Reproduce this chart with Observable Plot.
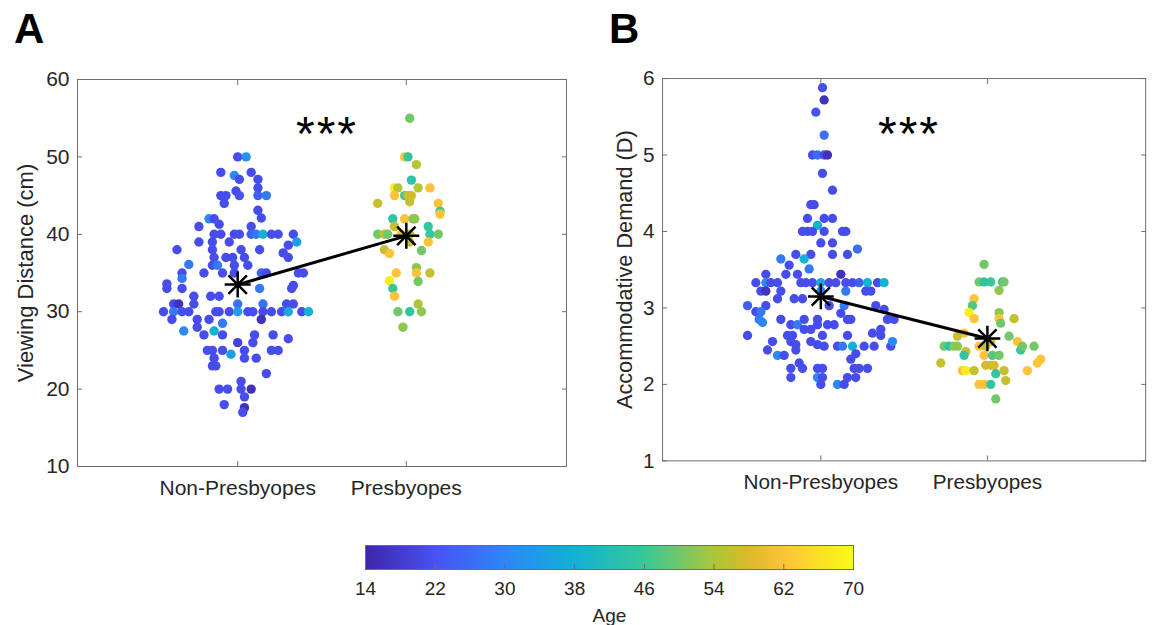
<!DOCTYPE html>
<html><head><meta charset="utf-8">
<script src="https://cdn.jsdelivr.net/npm/d3@7"></script>
<script src="https://cdn.jsdelivr.net/npm/@observablehq/plot@0.6"></script>
<style>
body{margin:0;background:#fff;overflow:hidden;}
#root{position:relative;width:1159px;height:625px;font-family:"Liberation Sans",Arial,sans-serif;overflow:hidden;}
.abs{position:absolute;}
.letter{position:absolute;font-weight:bold;font-size:42px;line-height:1;color:#000;}
.sig{position:absolute;font-size:48px;line-height:1;color:#000;letter-spacing:2px;}
</style></head><body><div id="root"></div>
<script>
// ---------- data ----------
const categories = ["Non-Presbyopes", "Presbyopes"];
const distanceTicks = [10, 20, 30, 40, 50, 60];
const demandTicks = [1, 2, 3, 4, 5, 6];
const ageTicks = [14, 22, 30, 38, 46, 54, 62, 70];
const parulaAges = [14, 22, 30, 38, 46, 54, 58, 62, 70];
const parulaColors = ["#3e26a8", "#4852f4", "#2d87f7", "#12b1d6", "#37c897", "#abc739", "#dcb92b", "#fec338", "#f9fb15"];

// [jitter (category units), viewing distance cm, age]
const distNonPresby = [
[0.00,50,21],[0.05,50,32],[-0.10,48,21],[0.08,48,21],[-0.02,47.6,30],[0.01,47.1,21],[0.12,47.1,21],
[0.12,46,21],[-0.01,45.6,21],[0.01,45,22],[-0.10,45,21],[-0.07,45,21],[-0.08,44,21],[0.12,45,24],[0.17,45,28],
[0.12,43.1,21],[0.14,42.1,21],[-0.17,42,30],[-0.14,42,21],[-0.11,41.3,21],[-0.23,41,21],[0.08,41,21],
[-0.14,40,21],[-0.10,40,21],[-0.02,40,21],[0.01,40,21],[0.08,40,24],[0.11,40,28],[0.15,40,38],[0.20,40,21],[0.24,40,21],[0.33,40,21],
[-0.23,39,21],[-0.15,39,21],[-0.05,39,21],[0.35,39,34],[0.30,38.6,21],
[-0.36,38,21],[-0.15,38,21],[0.02,38,21],[0.13,38,21],[0.27,37.6,21],
[0.30,37,21],[-0.14,37,21],[-0.07,37,21],[-0.03,37,21],[0.04,37,21],
[-0.29,36.1,28],[-0.15,36,21],[-0.12,36,28],[-0.02,36,21],[0.06,36,21],
[-0.33,35,21],[-0.20,35,21],[-0.09,35,21],[-0.02,35,21],[0.14,35,24],[0.17,35,21],[0.36,35,21],[0.39,35,21],
[-0.33,34.3,28],[-0.42,33.6,21],[-0.42,33,21],[-0.33,33,21],[0.13,33,28],[0.33,33.4,21],[0.32,33,21],
[-0.26,32,21],[-0.16,32,21],[-0.11,32,21],
[-0.38,31,21],[-0.35,31,16],[-0.26,31,21],[0.00,31,27],[0.15,31,27],[0.29,31,21],[0.33,31,21],
[-0.44,30,21],[-0.38,30,28],[-0.33,30,21],[-0.29,30,21],[-0.13,30,21],[-0.11,30,21],[-0.05,30,21],[0.00,30,34],
[0.06,30,21],[0.09,30,21],[0.15,30,21],[0.20,30,21],[0.26,30,21],[0.30,30,36],[0.38,30,21],[0.42,30,38],
[-0.39,29,21],[-0.24,29,21],[-0.17,29,21],[0.14,29,16],[-0.24,28,21],[-0.09,28.5,28],
[-0.32,27.5,30],[-0.14,27.5,38],[-0.20,27,21],[-0.09,27,21],[0.10,27,21],[0.21,27,21],[0.30,26.5,21],
[0.00,26,19],[0.09,26,21],[-0.18,25,21],[-0.15,25,21],[-0.09,25,21],[0.04,25,21],[0.20,25,21],[0.24,25,21],
[-0.04,24.5,34],[-0.14,24,21],[0.04,24,21],[0.11,24,21],[-0.15,23,21],[-0.13,23,21],
[0.17,22,21],[0.02,21,21],[-0.11,20,21],[-0.06,20,21],[0.02,20,21],[0.08,20,16],
[0.04,19,21],[-0.08,18,21],[0.04,17.6,16],[0.03,17,21]
];
const distPresby = [
[0.02,55,50],[-0.01,50,62],[0.01,50,45],[0.06,49,55],[0.03,47,44],
[-0.07,46,68],[-0.05,46,55],[0.07,46,55],[0.14,46,62],
[-0.07,45,62],[-0.01,45,47],[0.01,45,57],[0.03,45,57],
[0.02,44.2,56],[-0.17,44,56],[0.19,44,62],[0.20,43,47],[0.20,42.6,62],
[-0.08,42,45],[-0.01,42,62],[0.04,42,52],[0.05,42,52],[-0.07,41,56],[0.13,41,45],
[-0.17,40,50],[-0.13,40,56],[-0.11,40,50],[-0.03,40,62],[0.02,40,56],[0.14,40,46],[0.19,40,50],
[0.02,39,56],[0.13,39,62],[-0.13,38,56],[0.09,37.9,50],[-0.10,37.5,62],
[0.06,35.7,52],[0.06,35,62],[0.14,35,56],[-0.06,35,62],
[-0.10,34,68],[0.07,33.9,50],[-0.08,33,46],[-0.07,32,62],[0.07,31,54],
[-0.05,30,50],[0.02,30,45],[0.09,30,52],[-0.02,28,52]
];
// [jitter, accommodative demand D, age]
const demandNonPresby = [
[0.01,5.88,21],[0.02,5.72,16],[-0.03,5.56,22],[0.02,5.26,26],
[-0.05,5,21],[-0.02,5,26],[0.02,5,21],[0.04,5,16],[0.01,4.76,21],[0.07,4.54,21],
[-0.06,4.35,21],[-0.04,4.35,21],[-0.08,4.17,21],[0.02,4.17,21],[0.07,4.17,21],[-0.02,4.08,38],
[-0.11,4,21],[-0.08,4,21],[-0.05,4,21],[0.02,4,21],[0.13,4,21],[0.15,4,21],
[0.00,3.85,21],[0.07,3.85,21],[0.22,3.77,26],
[-0.15,3.7,21],[-0.06,3.7,21],[0.07,3.7,21],[0.16,3.7,21],
[-0.24,3.64,28],[-0.10,3.64,38],[-0.19,3.56,21],[-0.07,3.51,28],
[-0.33,3.44,21],[-0.21,3.44,21],[-0.14,3.44,21],[0.12,3.44,16],
[-0.39,3.33,21],[-0.33,3.33,30],[-0.30,3.33,21],[-0.26,3.33,21],[-0.12,3.33,21],[-0.09,3.33,21],[-0.05,3.33,21],[0.00,3.33,36],
[0.05,3.33,21],[0.09,3.33,21],[0.15,3.33,21],[0.19,3.33,21],[0.23,3.33,24],[0.28,3.33,38],[0.34,3.33,21],[0.38,3.33,38],
[-0.36,3.22,21],[-0.33,3.22,16],[-0.24,3.22,21],[0.00,3.22,30],[0.15,3.22,28],[0.27,3.22,21],[0.30,3.22,21],
[-0.26,3.12,21],[-0.16,3.12,21],[-0.11,3.12,21],
[-0.44,3.03,24],[-0.33,3.03,21],[0.05,3.03,21],[0.14,3.03,28],[0.33,3.03,21],[0.38,2.98,21],
[-0.39,2.95,21],[-0.36,2.95,28],[0.12,2.93,21],
[-0.37,2.85,28],[-0.24,2.85,21],[-0.10,2.85,21],[-0.02,2.85,21],[0.16,2.85,21],[0.18,2.85,21],[0.40,2.85,21],[0.44,2.85,21],
[-0.35,2.81,30],[-0.18,2.78,21],[-0.14,2.78,28],[-0.02,2.78,21],[0.04,2.78,21],[0.08,2.78,21],
[-0.10,2.72,21],[-0.06,2.72,21],
[-0.44,2.64,21],[-0.20,2.64,21],[-0.17,2.64,21],[0.01,2.64,21],[0.16,2.64,21],[0.36,2.64,21],[0.31,2.67,21],[0.36,2.72,21],
[-0.29,2.56,21],[-0.18,2.56,21],[-0.06,2.56,21],[-0.15,2.52,21],[-0.02,2.52,21],
[0.02,2.5,21],[0.10,2.5,21],[0.13,2.5,28],[0.19,2.5,38],[0.26,2.5,21],[0.32,2.5,21],[0.42,2.5,21],[0.43,2.56,30],
[-0.32,2.45,21],[-0.26,2.38,30],[-0.22,2.38,21],[-0.15,2.45,21],[0.18,2.33,21],[0.21,2.4,21],
[-0.13,2.28,21],[-0.18,2.21,21],[-0.11,2.21,21],[-0.02,2.21,21],[0.01,2.21,21],[0.20,2.21,21],[0.23,2.21,21],[0.28,2.21,21],
[-0.18,2.09,21],[-0.02,2.09,30],[0.01,2.09,21],[0.16,2.09,21],[0.21,2.09,21],
[0.00,2,21],[0.10,2,30],[0.14,2,21]
];
const demandPresby = [
[-0.02,3.57,50],[-0.05,3.34,50],[-0.02,3.34,44],[0.02,3.34,46],[0.09,3.34,46],[0.10,3.34,50],
[0.07,3.23,52],[-0.08,3.12,62],[-0.09,3.03,48],[-0.11,2.94,68],[-0.08,2.86,62],
[0.07,2.94,52],[0.07,2.86,62],[0.08,2.8,50],[0.16,2.86,56],
[-0.14,2.67,62],[-0.18,2.63,56],[0.02,2.56,56],[0.13,2.63,50],[0.18,2.56,62],[0.20,2.45,45],
[-0.26,2.5,50],[-0.23,2.5,44],[-0.20,2.5,52],[-0.18,2.5,52],[-0.05,2.5,62],[-0.01,2.5,56],[0.21,2.5,50],[0.28,2.5,50],
[-0.13,2.43,56],[-0.14,2.38,45],[-0.02,2.38,62],[0.03,2.38,48],[0.07,2.38,50],
[-0.28,2.28,56],[0.32,2.33,62],[0.30,2.28,62],[-0.01,2.25,58],[0.02,2.25,56],[0.04,2.25,58],
[-0.15,2.18,62],[-0.13,2.18,68],[-0.08,2.18,56],[0.05,2.14,45],[0.10,2.18,56],[0.24,2.18,62],
[-0.05,2,62],[-0.02,2,62],[0.02,2,45],[0.11,2.05,56],[0.05,1.81,50]
];
const meanDistance = [33.5, 39.8];
const meanDemand = [3.15, 2.60];

// ---------- helpers ----------
const parulaScale = d3.scaleLinear()
  .domain(parulaAges.map(a => (a - 14) / 56))
  .range(parulaColors)
  .interpolate(d3.interpolateRgb);
const parula = t => parulaScale(t);

const asterisk8 = {
  draw(ctx, size) {
    const r = Math.sqrt(size / Math.PI);
    for (let i = 0; i < 4; i++) {
      const a = i * Math.PI / 4, c = Math.cos(a) * r, s = Math.sin(a) * r;
      ctx.moveTo(c, s); ctx.lineTo(-c, -s);
    }
  }
};

const FONT = '"Liberation Sans", Arial, sans-serif';
const AX = "#6e6e6e";

function panel(d1, d2, means, domain, ticks, label, labelOffset) {
  const pts = [
    ...d1.map(d => ({x: 1 + d[0], y: d[1], age: d[2]})),
    ...d2.map(d => ({x: 2 + d[0], y: d[1], age: d[2]}))
  ];
  const m = means.map((v, i) => ({x: i + 1, y: v}));
  return Plot.plot({
    width: 580, height: 510,
    marginLeft: 77, marginRight: 14, marginTop: 79, marginBottom: 44,
    style: {fontFamily: FONT, fontSize: "21px", color: "#262626", background: "transparent", overflow: "visible"},
    x: {domain: [0.05, 2.95]},
    y: {domain},
    color: {type: "linear", domain: [14, 70], interpolate: parula},
    marks: [
      Plot.dot(pts, {x: "x", y: "y", fill: "age", r: 4.7}),
      Plot.line(m, {x: "x", y: "y", stroke: "black", strokeWidth: 3}),
      Plot.dot(m, {x: "x", y: "y", symbol: asterisk8, r: 13, stroke: "black", strokeWidth: 2.5, fill: "none"}),
      Plot.frame({stroke: AX}),
      Plot.axisY(ticks, {anchor: "left", tickSize: 0, tickPadding: 8, tickFormat: d => String(d), label: null}),
      Plot.axisY(ticks, {anchor: "left", tickSize: 0, fill: "currentColor", tickFormat: () => "", label, labelAnchor: "center", labelOffset, labelArrow: "none", fontSize: 22}),
      Plot.axisY(ticks, {anchor: "left", tickSize: 5, dx: 5, fill: "none", stroke: AX}),
      Plot.axisY(ticks, {anchor: "right", tickSize: 5, dx: -5, fill: "none", stroke: AX}),
      Plot.axisX([1, 2], {anchor: "bottom", tickSize: 0, tickPadding: 14, tickFormat: d => categories[d - 1], label: null}),
      Plot.axisX([1, 2], {anchor: "bottom", tickSize: 5, dy: -5, fill: "none", stroke: AX}),
      Plot.axisX([1, 2], {anchor: "top", tickSize: 5, dy: 5, fill: "none", stroke: AX})
    ]
  });
}

const root = document.getElementById("root");
function place(el, left, top) {
  const w = document.createElement("div");
  w.className = "abs"; w.style.left = left + "px"; w.style.top = top + "px";
  w.appendChild(el); root.appendChild(w);
}

place(panel(distNonPresby, distPresby, meanDistance, [10, 60], distanceTicks, "Viewing Distance (cm)", 60), 0, 0);
place(panel(demandNonPresby, demandPresby, meanDemand, [1, 6], demandTicks, "Accommodative Demand (D)", 47), 586, 0);

const cbar = Plot.plot({
  width: 1159, height: 95,
  marginLeft: 365, marginRight: 306, marginTop: 15, marginBottom: 56,
  style: {fontFamily: FONT, fontSize: "19px", color: "#262626", background: "transparent"},
  x: {domain: [14, 70]},
  y: {domain: [0, 1], axis: null},
  color: {type: "linear", domain: [14, 70], interpolate: parula},
  marks: [
    Plot.raster({x1: 14, x2: 70, y1: 0, y2: 1, fill: (x, y) => x, width: 488, height: 1, imageRendering: "auto"}),
    Plot.frame({stroke: AX}),
    Plot.axisX(ageTicks, {anchor: "bottom", tickSize: 5, dy: -5, fill: "none", stroke: AX}),
    Plot.axisX(ageTicks, {anchor: "bottom", tickSize: 0, tickPadding: 12, tickFormat: d => String(d), label: "Age", labelAnchor: "center", labelOffset: 52, labelArrow: "none"})
  ]
});
place(cbar, 0, 530);

function addText(cls, txt, left, top) {
  const d = document.createElement("div");
  d.className = cls; d.textContent = txt;
  d.style.left = left + "px"; d.style.top = top + "px";
  root.appendChild(d);
}
addText("letter", "A", 14, 8);
addText("letter", "B", 609, 8);
addText("sig", "***", 296, 110);
addText("sig", "***", 878, 110);
</script></body></html>
